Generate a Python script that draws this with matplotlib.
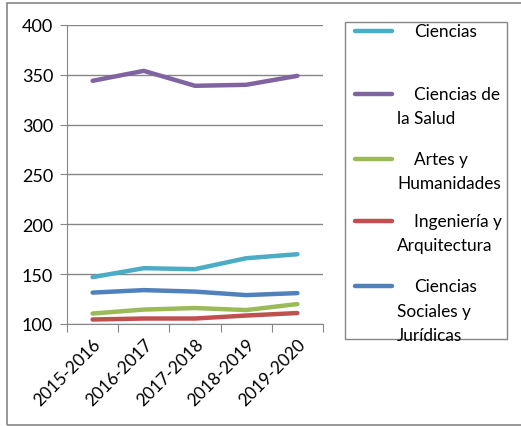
import matplotlib
matplotlib.use("Agg")
import matplotlib.pyplot as plt
from matplotlib.patches import Rectangle
from matplotlib.lines import Line2D

plt.rcParams["font.family"] = ["Lato", "DejaVu Sans"]

years = ["2015-2016", "2016-2017", "2017-2018", "2018-2019", "2019-2020"]
ciencias = [147, 156, 155, 166, 170]
salud = [344, 354, 339, 340, 349]
artes = [110.5, 114.5, 116, 114, 120]
ingenieria = [104.5, 105.5, 105.5, 108.5, 111]
sociales = [131.5, 134, 132.5, 129, 131]

series = [
    ("Ciencias", [], ciencias, "#4BACC6"),
    ("Ciencias de", ["la Salud"], salud, "#8064A2"),
    ("Artes y", ["Humanidades"], artes, "#9BBB59"),
    ("Ingeniería y", ["Arquitectura"], ingenieria, "#C0504D"),
    ("Ciencias", ["Sociales y", "Jurídicas"], sociales, "#4F81BD"),
]

W, H = 521, 427
fig = plt.figure(figsize=(W / 100, H / 100), dpi=100)
GRID = "#868686"

# outer chart border (right edge falls outside the image)
fig.patches.append(Rectangle((7 / W, 1.5 / H), 1.5, (H - 5.5) / H, transform=fig.transFigure,
                             fill=False, edgecolor=GRID, lw=1.2))

ax = fig.add_axes([67 / W, 1 - 325 / H, (323 - 67) / W, (325 - 26) / H])
x = range(len(years))
for _, _, vals, col in series:
    ax.plot(x, vals, color=col, lw=3.2, solid_capstyle="round")

ax.set_xlim(-0.5, len(years) - 0.5)
ax.set_ylim(100, 400)
ax.set_yticks(range(100, 401, 50))
ax.set_xticks([i - 0.5 for i in range(len(years) + 1)], minor=False)
ax.set_xticklabels([])
ax.set_xticks(list(x), minor=True)
ax.set_xticklabels(years, minor=True, rotation=45, ha="right", rotation_mode="anchor", fontsize=12.5)
ax.tick_params(axis="x", which="minor", length=0, pad=8)
ax.tick_params(axis="x", which="major", length=6, color=GRID, direction="out")
ax.tick_params(axis="y", length=5, color=GRID, labelsize=13, pad=5)
ax.grid(True, axis="y", color=GRID, lw=1)
for s in ["top", "right"]:
    ax.spines[s].set_visible(False)
for s in ["left", "bottom"]:
    ax.spines[s].set_color(GRID)

# legend box drawn by hand so the key sits on the first line of each label
lx0, lx1, ly0, ly1 = 345, 507, 23, 340
fig.patches.append(Rectangle((lx0 / W, 1 - ly1 / H), (lx1 - lx0) / W, (ly1 - ly0) / H,
                             transform=fig.transFigure, fill=False, edgecolor=GRID, lw=1))
row_y = [32, 95, 160, 222, 287]
for (first, rest, _, col), y in zip(series, row_y):
    fig.add_artist(Line2D([355 / W, 392 / W], [1 - y / H] * 2, color=col, lw=3.2,
                          solid_capstyle="round", transform=fig.transFigure))
    fig.text(414 / W, 1 - y / H, first, fontsize=12.4, va="center", ha="left")
    for k, line in enumerate(rest):
        fig.text(397 / W, 1 - (y + 24.5 * (k + 1)) / H, line, fontsize=12.4, va="center", ha="left")

fig.savefig("out.png", dpi=100)
